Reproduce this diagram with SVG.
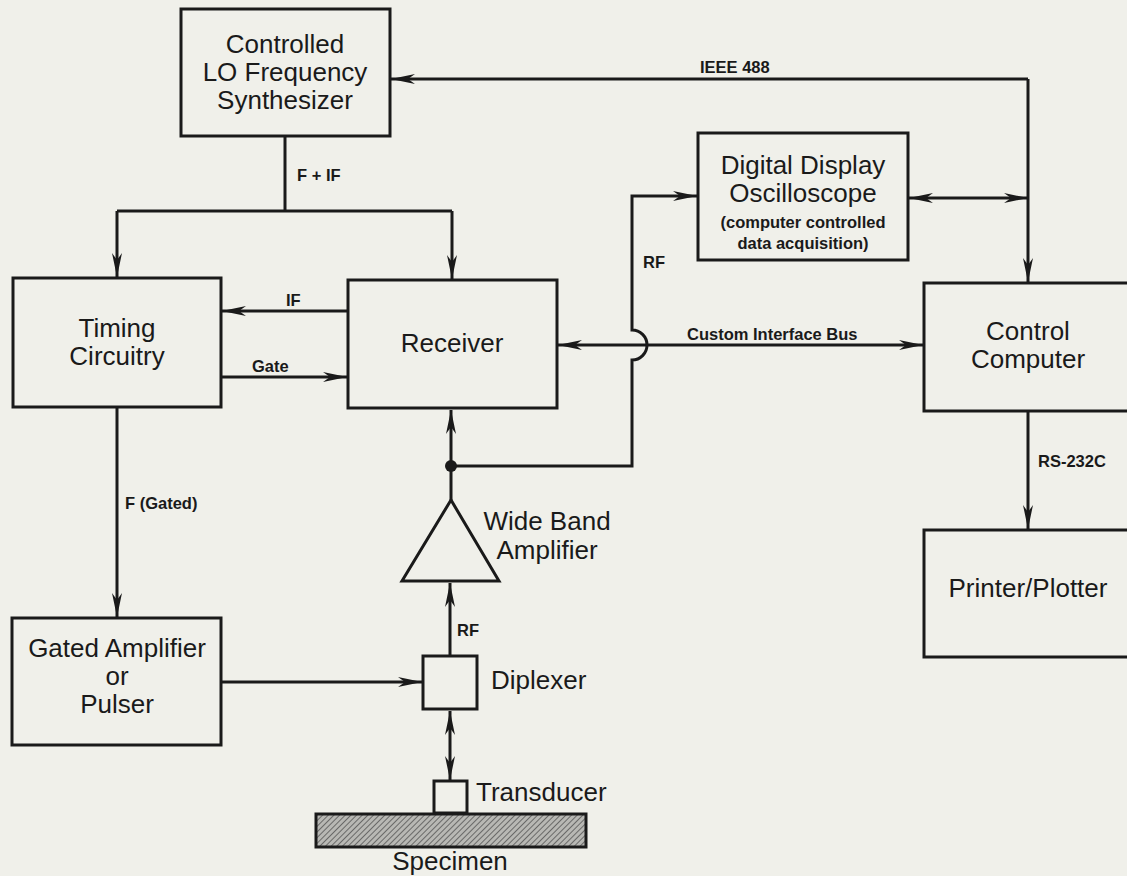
<svg xmlns="http://www.w3.org/2000/svg" width="1127" height="876" viewBox="0 0 1127 876">
<style>
.box{fill:none;stroke:#1a1a1a;stroke-width:3}
.ln{fill:none;stroke:#1a1a1a;stroke-width:3}
.t{font-family:"Liberation Sans",Arial,sans-serif;font-size:26px;fill:#1a1a1a;text-anchor:middle}
.s{font-family:"Liberation Sans",Arial,sans-serif;font-size:16.5px;font-weight:bold;fill:#1a1a1a}
.c{text-anchor:middle}
</style>
<defs>
<marker id="ah" markerUnits="userSpaceOnUse" markerWidth="30" markerHeight="14" viewBox="-26 -7 28 14" refX="0" refY="0" orient="auto-start-reverse">
<path d="M0,0 L-24,-5 L-17,0 L-24,5 Z" fill="#1a1a1a"/>
</marker>
<pattern id="hatch" width="4" height="4" patternUnits="userSpaceOnUse" patternTransform="rotate(45)">
<rect width="4" height="4" fill="#b8b8b4"/>
<line x1="0" y1="0" x2="0" y2="4" stroke="#555" stroke-width="1.6"/>
</pattern>
</defs>
<rect width="1127" height="876" fill="#f0f0ea"/>

<g id="connectors">
<path class="ln" d="M285,136 V211"/>
<path class="ln" d="M117,211 H452"/>
<path class="ln" d="M117,211 V277" marker-end="url(#ah)"/>
<path class="ln" d="M452,211 V279" marker-end="url(#ah)"/>
<path class="ln" d="M1028,79 H391" marker-end="url(#ah)"/>
<path class="ln" d="M1028,79 V282" marker-end="url(#ah)"/>
<path class="ln" d="M909,198 H1028" marker-start="url(#ah)" marker-end="url(#ah)"/>
<path class="ln" d="M348,311 H222" marker-end="url(#ah)"/>
<path class="ln" d="M221,377 H347" marker-end="url(#ah)"/>
<path class="ln" d="M558,345 H923" marker-start="url(#ah)" marker-end="url(#ah)"/>
<path class="ln" d="M451,466 H632 V360 A15,15 0 0 0 632,330 V196 H697" marker-end="url(#ah)"/>
<path class="ln" d="M451,500 V410" marker-end="url(#ah)"/>
<circle cx="451" cy="466" r="6" fill="#1a1a1a"/>
<path class="ln" d="M117,407 V617" marker-end="url(#ah)"/>
<path class="ln" d="M221,682 H422" marker-end="url(#ah)"/>
<path class="ln" d="M450,656 V583" marker-end="url(#ah)"/>
<path class="ln" d="M450,711 V780" marker-start="url(#ah)" marker-end="url(#ah)"/>
<path class="ln" d="M1028,411 V529" marker-end="url(#ah)"/>
<text class="s" x="297" y="181">F + IF</text>
<text class="s" x="700" y="73">IEEE 488</text>
<text class="s" x="286" y="306">IF</text>
<text class="s" x="252" y="372">Gate</text>
<text class="s" x="643" y="268">RF</text>
<text class="s" x="687" y="340">Custom Interface Bus</text>
<text class="s" x="125" y="509">F (Gated)</text>
<text class="s" x="457" y="636">RF</text>
<text class="s" x="1038" y="467">RS-232C</text>
</g>

<g id="synthesizer">
<rect class="box" x="181" y="9" width="209" height="127"/>
<text class="t" x="285" y="53">Controlled</text>
<text class="t" x="285" y="81">LO Frequency</text>
<text class="t" x="285" y="109">Synthesizer</text>
</g>

<g id="oscilloscope">
<rect class="box" x="698" y="133" width="210" height="127"/>
<text class="t" x="803" y="174">Digital Display</text>
<text class="t" x="803" y="202">Oscilloscope</text>
<text class="s c" x="803" y="228">(computer controlled</text>
<text class="s c" x="803" y="249">data acquisition)</text>
</g>

<g id="timing">
<rect class="box" x="13" y="278" width="208" height="129"/>
<text class="t" x="117" y="337">Timing</text>
<text class="t" x="117" y="365">Circuitry</text>
</g>

<g id="receiver">
<rect class="box" x="348" y="280" width="209" height="128"/>
<text class="t" x="452" y="352">Receiver</text>
</g>

<g id="computer">
<rect class="box" x="924" y="283" width="215" height="128"/>
<text class="t" x="1028" y="340">Control</text>
<text class="t" x="1028" y="368">Computer</text>
</g>

<g id="printer">
<rect class="box" x="924" y="530" width="215" height="127"/>
<text class="t" x="1028" y="597">Printer/Plotter</text>
</g>

<g id="amplifier">
<path class="box" d="M451,500 L402,581 H499 Z"/>
<text class="t" x="547" y="530">Wide Band</text>
<text class="t" x="547" y="559">Amplifier</text>
</g>

<g id="pulser">
<rect class="box" x="12" y="618" width="209" height="127"/>
<text class="t" x="117" y="657">Gated Amplifier</text>
<text class="t" x="117" y="685">or</text>
<text class="t" x="117" y="713">Pulser</text>
</g>

<g id="diplexer">
<rect class="box" x="423" y="656" width="54" height="53"/>
<text class="t" x="491" y="689" style="text-anchor:start">Diplexer</text>
</g>

<g id="transducer">
<rect class="box" x="434" y="781" width="33" height="32"/>
<text class="t" x="476" y="801" style="text-anchor:start">Transducer</text>
</g>

<g id="specimen">
<rect x="316" y="814" width="270" height="33" fill="url(#hatch)" stroke="#1a1a1a" stroke-width="3"/>
<text class="t" x="450" y="870">Specimen</text>
</g>
</svg>
